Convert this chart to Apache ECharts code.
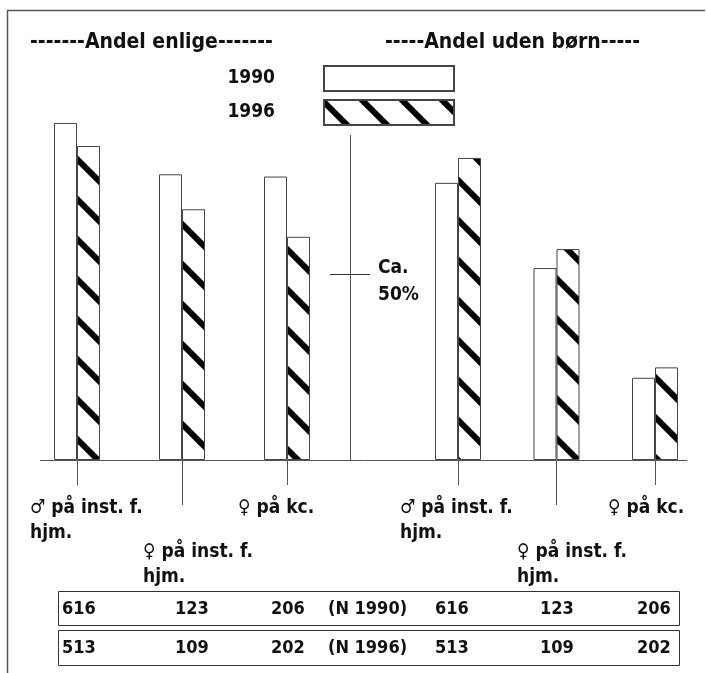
<!DOCTYPE html>
<html><head><meta charset="utf-8">
<script src="https://cdn.jsdelivr.net/npm/echarts@6.0.0/dist/echarts.min.js"></script>
<style>html,body{margin:0;padding:0;background:#fff}#c{width:706px;height:673px}</style>
</head><body><div id="c"></div>
<script>
// ---- data ----
const titles = ['-------Andel enlige-------', '-----Andel uden børn-----'];
const years = ['1990', '1996'];
const categories = ['♂ på inst. f.\nhjm.', '♀ på inst. f.\nhjm.', '♀ på kc.'];
const enlige1990 = [90.6, 76.8, 76.2];
const enlige1996 = [84.4, 67.4, 60.0];
const uden1990 = [74.5, 51.6, 22.1];
const uden1996 = [81.2, 56.7, 24.9];
const n1990 = [616, 123, 206];
const n1996 = [513, 109, 202];
const nLabels = ['(N 1990)', '(N 1996)'];
const refValue = 50;
const refLabel = 'Ca.\n50%';

// ---- style ----
const FONT = '"DejaVu Sans Condensed", "DejaVu Sans", sans-serif';
const INK = '#111';
const LINE = '#444';
// label block widths (text starts half a width left of the tick), per grid
const labelWidths = [[94, 78, 98], [116, 79, 94]];

function hatchCanvas() {
  const c = document.createElement('canvas');
  c.width = 40; c.height = 40;
  const g = c.getContext('2d');
  g.fillStyle = '#fff'; g.fillRect(0, 0, 40, 40);
  g.strokeStyle = '#000'; g.lineWidth = 6;
  for (const k of [-40, 0, 40]) {
    g.beginPath(); g.moveTo(k - 10, -10); g.lineTo(k + 50, 50); g.stroke();
  }
  return c;
}
const hatch = { image: hatchCanvas(), repeat: 'repeat', x: -2, y: 0 };

function richFor(grid) {
  const r = {};
  labelWidths[grid].forEach((w, i) => {
    r['a' + i] = { width: w, align: 'left', fontSize: 19, fontWeight: 'bold', fontFamily: FONT, color: INK, lineHeight: 25 };
  });
  return r;
}
const labelFmt = (v, i) => v.split('\n').map(s => '{a' + i + '|' + s + '}').join('\n');

function xAxes(grid, staggered) {
  const show = i => staggered ? i === 1 : i !== 1;
  return {
    type: 'category', gridIndex: grid, data: categories, position: 'bottom',
    axisLine: { show: false },
    axisTick: { show: true, alignWithLabel: true, length: staggered ? 45 : 25, interval: show, lineStyle: { color: '#555', width: 1 } },
    axisLabel: { interval: show, margin: staggered ? 80 : 36, formatter: labelFmt, rich: richFor(grid), align: 'center' },
    splitLine: { show: false }
  };
}

const chart = echarts.init(document.getElementById('c'), null, { renderer: 'canvas' });
const barBase = { type: 'bar', barWidth: 23, barGap: '0%', silent: true, animation: false };
const white = { color: '#fff', borderColor: LINE, borderWidth: 1 };
const hatched = { color: hatch, borderColor: LINE, borderWidth: 1 };
const titleStyle = { fontSize: 21, fontWeight: 'bold', fontFamily: FONT, color: INK };

chart.setOption({
  animation: false,
  backgroundColor: '#fff',
  title: [
    { text: titles[0], left: 25, top: 27, textStyle: titleStyle },
    { text: titles[1], left: 380, top: 27, textStyle: titleStyle }
  ],
  legend: {
    data: years, orient: 'vertical', right: 246, top: 60, itemWidth: 130, itemHeight: 25, itemGap: 7,
    align: 'right', icon: 'rect', selectedMode: false,
    formatter: n => '{a|' + n + '}',
    textStyle: { rich: { a: { fontSize: 19, lineHeight: 22, fontWeight: 'bold', fontFamily: FONT, color: INK, padding: [0, 44, 0, 0] } } }
  },
  grid: [
    { left: 24.5, width: 315, top: 88, height: 372 },
    { left: 408.75, width: 295.5, top: 88, height: 372 }
  ],
  xAxis: [xAxes(0, false), xAxes(0, true), xAxes(1, false), xAxes(1, true)],
  yAxis: [
    { type: 'value', gridIndex: 0, min: 0, max: 100, show: false },
    { type: 'value', gridIndex: 1, min: 0, max: 100, show: false }
  ],
  series: [
    Object.assign({}, barBase, { name: years[0], xAxisIndex: 0, yAxisIndex: 0, data: enlige1990, itemStyle: white }),
    Object.assign({}, barBase, { name: years[1], xAxisIndex: 0, yAxisIndex: 0, data: enlige1996, itemStyle: hatched }),
    Object.assign({}, barBase, { name: years[0], xAxisIndex: 2, yAxisIndex: 1, data: uden1990, itemStyle: white }),
    Object.assign({}, barBase, { name: years[1], xAxisIndex: 2, yAxisIndex: 1, data: uden1996, itemStyle: hatched })
  ]
});

// ---- decorations derived from the axes ----
const y0 = chart.convertToPixel({ yAxisIndex: 0 }, 0);
const yRef = chart.convertToPixel({ yAxisIndex: 0 }, refValue);
const midX = 350.5;
const tFont = { fontSize: 18, fontWeight: 'bold', fontFamily: FONT, fill: INK };
const rows = [
  [...n1990, nLabels[0], ...n1990],
  [...n1996, nLabels[1], ...n1996]
];
const colX = [62, 175, 271, 328, 435, 540, 637];
const rowBox = [[591, 34], [630, 35]];
const graphics = [
  { type: 'polyline', shape: { points: [[7.5, 673], [7.5, 10.5], [705, 10.5]] }, style: { stroke: '#555', lineWidth: 1.5, fill: null }, silent: true },
  { type: 'line', shape: { x1: 40, y1: Math.round(y0) + 0.5, x2: 687, y2: Math.round(y0) + 0.5 }, style: { stroke: '#555', lineWidth: 1 }, silent: true, z: 10 },
  { type: 'line', shape: { x1: midX, y1: 135, x2: midX, y2: y0 }, style: { stroke: '#555', lineWidth: 1 }, silent: true },
  { type: 'line', shape: { x1: 330, y1: Math.round(yRef) + 0.5, x2: 370, y2: Math.round(yRef) + 0.5 }, style: { stroke: '#333', lineWidth: 1 }, silent: true },
  { type: 'text', x: 378, y: yRef + 8, style: Object.assign({ text: refLabel, verticalAlign: 'middle', align: 'left', lineHeight: 27 }, tFont, { fontSize: 19 }), silent: true }
];
rowBox.forEach((b, r) => {
  graphics.push({ type: 'rect', shape: { x: 58.5, y: b[0] + 0.5, width: 621, height: b[1] }, style: { fill: null, stroke: '#333', lineWidth: 1 }, silent: true });
  rows[r].forEach((v, i) => {
    graphics.push({ type: 'text', x: colX[i], y: b[0] + b[1] / 2 + 1, style: Object.assign({ text: String(v), verticalAlign: 'middle', align: 'left' }, tFont), silent: true });
  });
});
chart.setOption({ graphic: graphics });
</script>
</body></html>
